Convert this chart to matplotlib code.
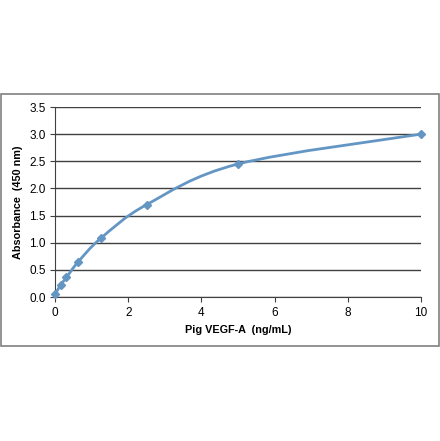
import numpy as np
import matplotlib
matplotlib.use('Agg')
import matplotlib.pyplot as plt
from matplotlib.path import Path
from matplotlib.patches import PathPatch, Rectangle

conc = [0, 0.156, 0.3125, 0.625, 1.25, 2.5, 5, 10]
absorb = [0.05, 0.22, 0.36, 0.64, 1.08, 1.70, 2.45, 3.0]
xticks = [0, 2, 4, 6, 8, 10]
yticks = [0.0, 0.5, 1.0, 1.5, 2.0, 2.5, 3.0, 3.5]

blue = '#6496c4'

plt.rcParams['font.family'] = ['Liberation Sans', 'DejaVu Sans']

fig = plt.figure(figsize=(4.4, 4.41), dpi=100)
fig.patches.append(Rectangle((1 / 440, 95 / 441), 438 / 440, 252 / 441,
                             transform=fig.transFigure, fill=False,
                             edgecolor='#808080', linewidth=1.2))
ax = fig.add_axes([55 / 440, 144 / 441, 366 / 440, 190 / 441])


def smooth_path(xs, ys, t=1 / 6):
  # excel style smoothed line as bezier segments
  pts = np.column_stack([xs, ys])
  verts = [pts[0]]
  codes = [Path.MOVETO]
  n = len(pts)
  for i in range(n - 1):
    p0 = pts[max(i - 1, 0)]
    p1 = pts[i]
    p2 = pts[i + 1]
    p3 = pts[min(i + 2, n - 1)]
    c1 = p1 + (p2 - p0) * t
    c2 = p2 - (p3 - p1) * t
    verts += [c1, c2, p2]
    codes += [Path.CURVE4] * 3
  return Path(verts, codes)


ax.add_patch(PathPatch(smooth_path(conc, absorb), fill=False,
                       edgecolor=blue, linewidth=2, zorder=3))
ax.plot(conc, absorb, linestyle='none', marker='D', markersize=4.5,
        color=blue, zorder=4, clip_on=False)

ax.set_xlim(0, 10)
ax.set_ylim(0, 3.5)
ax.set_xticks(xticks)
ax.set_yticks(yticks)
ax.set_yticklabels(['%.1f' % v for v in yticks])
ax.yaxis.grid(True, color='#404040', linewidth=1)
ax.set_axisbelow(True)
for s in ['top', 'right']:
  ax.spines[s].set_visible(False)
for s in ['left', 'bottom']:
  ax.spines[s].set_color('#404040')
ax.tick_params(axis='both', labelsize=8.5, color='#404040', length=3.5)
ax.tick_params(axis='x', pad=4)
ax.tick_params(axis='y', pad=3)
ax.set_xlabel('Pig VEGF-A  (ng/mL)', fontsize=7.8, fontweight='bold', labelpad=4)
ax.set_ylabel('Absorbance  (450 nm)', fontsize=7.8, fontweight='bold', labelpad=5)

fig.savefig('out.png', dpi=100)
